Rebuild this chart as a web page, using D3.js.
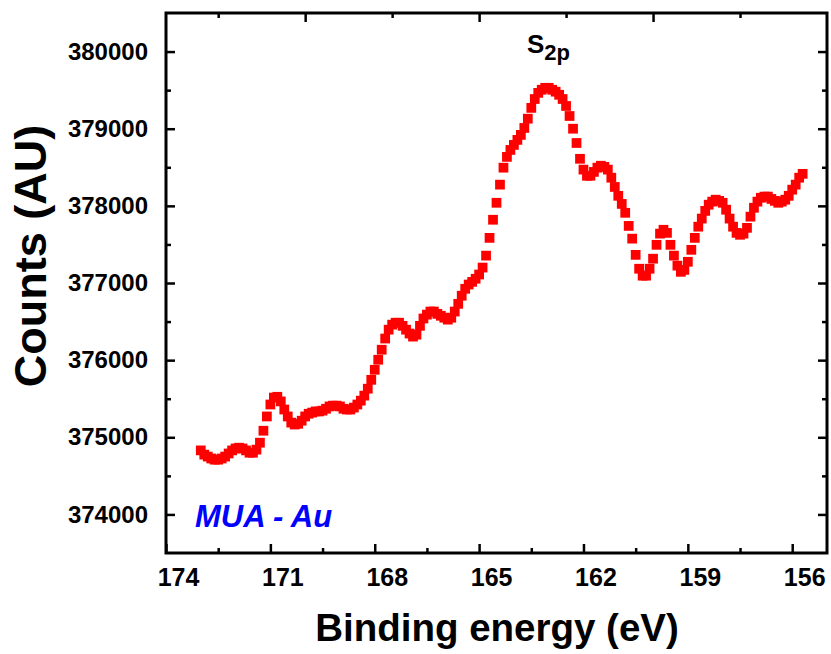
<!DOCTYPE html>
<html>
<head>
<meta charset="utf-8">
<script src="https://cdn.jsdelivr.net/npm/d3@7"></script>
<style>
  body { margin: 0; background: #fff; }
  text { font-family: "Liberation Sans", Arial, sans-serif; font-weight: bold; }
</style>
</head>
<body>
<div id="chart"></div>
<script>
// binding energy (eV), one point every 0.1 eV
var bindingEnergy = [
  173.0, 172.9, 172.8, 172.7, 172.6, 172.5, 172.4, 172.3, 172.2, 172.1,
  172.0, 171.9, 171.8, 171.7, 171.6, 171.5, 171.4, 171.3, 171.2, 171.1,
  171.0, 170.9, 170.8, 170.7, 170.6, 170.5, 170.4, 170.3, 170.2, 170.1,
  170.0, 169.9, 169.8, 169.7, 169.6, 169.5, 169.4, 169.3, 169.2, 169.1,
  169.0, 168.9, 168.8, 168.7, 168.6, 168.5, 168.4, 168.3, 168.2, 168.1,
  168.0, 167.9, 167.8, 167.7, 167.6, 167.5, 167.4, 167.3, 167.2, 167.1,
  167.0, 166.9, 166.8, 166.7, 166.6, 166.5, 166.4, 166.3, 166.2, 166.1,
  166.0, 165.9, 165.8, 165.7, 165.6, 165.5, 165.4, 165.3, 165.2, 165.1,
  165.0, 164.9, 164.8, 164.7, 164.6, 164.5, 164.4, 164.3, 164.2, 164.1,
  164.0, 163.9, 163.8, 163.7, 163.6, 163.5, 163.4, 163.3, 163.2, 163.1,
  163.0, 162.9, 162.8, 162.7, 162.6, 162.5, 162.4, 162.3, 162.2, 162.1,
  162.0, 161.9, 161.8, 161.7, 161.6, 161.5, 161.4, 161.3, 161.2, 161.1,
  161.0, 160.9, 160.8, 160.7, 160.6, 160.5, 160.4, 160.3, 160.2, 160.1,
  160.0, 159.9, 159.8, 159.7, 159.6, 159.5, 159.4, 159.3, 159.2, 159.1,
  159.0, 158.9, 158.8, 158.7, 158.6, 158.5, 158.4, 158.3, 158.2, 158.1,
  158.0, 157.9, 157.8, 157.7, 157.6, 157.5, 157.4, 157.3, 157.2, 157.1,
  157.0, 156.9, 156.8, 156.7, 156.6, 156.5, 156.4, 156.3, 156.2, 156.1,
  156.0, 155.9, 155.8, 155.7
];

// counts (AU)
var counts = [
  374830, 374775, 374750, 374725, 374710, 374710, 374725, 374750, 374790, 374830,
  374855, 374865, 374855, 374830, 374800, 374800, 374840, 374930, 375085, 375270,
  375425, 375515, 375525, 375465, 375360, 375270, 375190, 375165, 375175, 375215,
  375270, 375305, 375320, 375335, 375335, 375345, 375370, 375400, 375410, 375410,
  375400, 375370, 375360, 375360, 375385, 375425, 375475, 375540, 375630, 375745,
  375875, 376005, 376135, 376280, 376395, 376460, 376485, 376485, 376445, 376395,
  376345, 376305, 376330, 376445, 376540, 376590, 376630, 376630, 376600, 376575,
  376550, 376525, 376550, 376630, 376730, 376835, 376925, 376980, 377015, 377055,
  377110, 377200, 377355, 377585, 377820, 378040, 378275, 378495, 378635, 378725,
  378790, 378855, 378920, 379010, 379130, 379270, 379385, 379465, 379505, 379530,
  379530, 379505, 379480, 379440, 379385, 379295, 379165, 379000, 378815, 378610,
  378470, 378390, 378390, 378440, 378495, 378520, 378505, 378470, 378365, 378245,
  378130, 378025, 377910, 377740, 377575, 377365, 377185, 377095, 377095, 377185,
  377315, 377495, 377640, 377690, 377650, 377495, 377355, 377225, 377145, 377170,
  377275, 377430, 377585, 377730, 377835, 377935, 378015, 378055, 378080, 378065,
  378040, 377950, 377835, 377730, 377650, 377625, 377640, 377715, 377860, 377975,
  378055, 378105, 378120, 378120, 378090, 378065, 378040, 378055, 378080, 378130,
  378210, 378275, 378365, 378415
];

// tick positions
var xMajorTicks = [174, 171, 168, 165, 162, 159, 156];
var xMinorTicks = [172.5, 169.5, 166.5, 163.5, 160.5, 157.5];
var topMajorTicks = [170, 165, 160];
var topMinorTicks = [172.5, 167.5, 162.5, 157.5];
var yMajorTicks = [374000, 375000, 376000, 377000, 378000, 379000, 380000];
var yMinorTicks = [374500, 375500, 376500, 377500, 378500, 379500];

var svgWidth = 831;
var svgHeight = 654;

var margin = { top: 13, right: 4, bottom: 101, left: 166 };
var width = svgWidth - margin.left - margin.right;
var height = svgHeight - margin.top - margin.bottom;

var svg = d3.select("#chart")
  .append("svg")
  .attr("width", svgWidth)
  .attr("height", svgHeight);

var chartGroup = svg.append("g")
  .attr("transform", `translate(${margin.left}, ${margin.top})`);

// reversed energy axis
var xScale = d3.scaleLinear().domain([174, 155]).range([0, width]);
var yScale = d3.scaleLinear().domain([373500, 380500]).range([height, 0]);

var data = bindingEnergy.map((e, i) => ({ e: e, c: counts[i] }));

// draw an axis with inward ticks, no domain line
function drawAxis(axis, transform, showLabels) {
  var g = chartGroup.append("g")
    .attr("transform", transform)
    .call(axis);
  g.select(".domain").remove();
  g.selectAll(".tick line").attr("stroke", "#000").attr("stroke-width", 2.5);
  if (!showLabels) g.selectAll(".tick text").remove();
  return g;
}

// bottom axis
var bottomAxis = drawAxis(d3.axisBottom(xScale).tickValues(xMajorTicks)
  .tickSizeInner(-9).tickSizeOuter(0).tickPadding(15).tickFormat(d3.format("d")),
  `translate(0, ${height})`, true);
bottomAxis.selectAll(".tick text")
  .attr("dx", 12)
  .attr("font-size", 25)
  .attr("fill", "#000");
drawAxis(d3.axisBottom(xScale).tickValues(xMinorTicks).tickSizeInner(-5).tickSizeOuter(0),
  `translate(0, ${height})`, false);

// top axis
drawAxis(d3.axisTop(xScale).tickValues(topMajorTicks).tickSizeInner(-9).tickSizeOuter(0),
  "translate(0, 0)", false);
drawAxis(d3.axisTop(xScale).tickValues(topMinorTicks).tickSizeInner(-5).tickSizeOuter(0),
  "translate(0, 0)", false);

// left axis
var leftAxis = drawAxis(d3.axisLeft(yScale).tickValues(yMajorTicks)
  .tickSizeInner(-9).tickSizeOuter(0).tickPadding(18).tickFormat(d3.format("d")),
  "translate(0, 0)", true);
leftAxis.selectAll(".tick text")
  .attr("font-size", 24)
  .attr("fill", "#000");
drawAxis(d3.axisLeft(yScale).tickValues(yMinorTicks).tickSizeInner(-5).tickSizeOuter(0),
  "translate(0, 0)", false);

// right axis
drawAxis(d3.axisRight(yScale).tickValues(yMajorTicks).tickSizeInner(-9).tickSizeOuter(0),
  `translate(${width}, 0)`, false);
drawAxis(d3.axisRight(yScale).tickValues(yMinorTicks).tickSizeInner(-5).tickSizeOuter(0),
  `translate(${width}, 0)`, false);

// frame
chartGroup.append("rect")
  .attr("width", width)
  .attr("height", height)
  .attr("fill", "none")
  .attr("stroke", "#000")
  .attr("stroke-width", 3);

// data squares
chartGroup.selectAll(".pt")
  .data(data)
  .enter()
  .append("path")
  .attr("class", "pt")
  .attr("d", d3.symbol().type(d3.symbolSquare).size(95))
  .attr("transform", d => `translate(${xScale(d.e)}, ${yScale(d.c)})`)
  .attr("fill", "#ff0000");

// peak label
var peakLabel = chartGroup.append("text")
  .attr("x", 527 - margin.left)
  .attr("y", 53 - margin.top)
  .attr("font-size", 26)
  .attr("fill", "#000");
peakLabel.append("tspan").text("S");
peakLabel.append("tspan").attr("font-size", 22).attr("dy", 7).text("2p");

// sample label
chartGroup.append("text")
  .attr("x", 195 - margin.left)
  .attr("y", 527 - margin.top)
  .attr("font-size", 31)
  .attr("font-style", "italic")
  .attr("fill", "#0000ff")
  .text("MUA - Au");

// axis titles
svg.append("text")
  .attr("x", 497)
  .attr("y", 641)
  .attr("text-anchor", "middle")
  .attr("font-size", 38.5)
  .attr("fill", "#000")
  .text("Binding energy (eV)");

svg.append("text")
  .attr("transform", "translate(46, 256) rotate(-90)")
  .attr("text-anchor", "middle")
  .attr("font-size", 45)
  .attr("fill", "#000")
  .text("Counts (AU)");
</script>
</body>
</html>
